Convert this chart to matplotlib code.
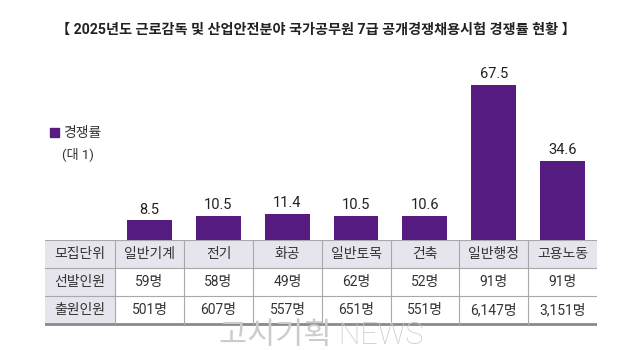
import matplotlib
matplotlib.use('Agg')
import matplotlib.pyplot as plt
from matplotlib.patches import Rectangle

plt.rcParams['font.family'] = ['Roboto', 'Noto Sans CJK KR', 'DejaVu Sans']

# ─────────────────────────────────────────────
# Data
# ─────────────────────────────────────────────
TITLE = '【 2025년도 근로감독 및 산업안전분야 국가공무원 7급 공개경쟁채용시험 경쟁률 현황 】'
units = ['일반기계', '전기', '화공', '일반토목', '건축', '일반행정', '고용노동']
rates = [8.5, 10.5, 11.4, 10.5, 10.6, 67.5, 34.6]
selected = ['59명', '58명', '49명', '62명', '52명', '91명', '91명']
applicants = ['501명', '607명', '557명', '651명', '551명', '6,147명', '3,151명']
row_heads = ['모집단위', '선발인원', '출원인원']

BAR = '#561c82'
GRAY_BG = '#e6e4ec'
LINE = '#a8a8a8'
TXT = '#333333'

W, H = 625, 351

def box(left, top, right, bottom):
    return [left / W, 1 - bottom / H, (right - left) / W, (bottom - top) / H]

fig = plt.figure(figsize=(W / 100, H / 100), dpi=100)

# ─────────────────────────────────────────────
# Bars
# ─────────────────────────────────────────────
ax = fig.add_axes(box(115, 60, 597, 240))
x = range(len(units))
ax.bar(x, rates, width=0.65, color=BAR)
for i, v in zip(x, rates):
    ax.text(i, v + 1.6, f'{v}', ha='center', va='bottom', fontsize=10.5,
            color='#222222')
ax.set_xlim(-0.5, len(units) - 0.5)
ax.set_ylim(0, 78.4)
ax.axis('off')

# ─────────────────────────────────────────────
# Table
# ─────────────────────────────────────────────
tx = fig.add_axes(box(45, 240, 597, 326))
tx.set_xlim(45, 597)
tx.set_ylim(326, 240)
tx.axis('off')

col_edges = [45, 115, 184, 253, 322, 391, 459, 528, 597]
row_edges = [240, 268, 296, 324]

# header row and first column background
tx.add_patch(Rectangle((45, 240), 552, 28, color=GRAY_BG, lw=0))
tx.add_patch(Rectangle((45, 268), 70, 56, color=GRAY_BG, lw=0))

for y in row_edges[:-1]:
    tx.plot([45, 597], [y, y], color=LINE, lw=0.8)
tx.plot([45, 597], [324, 324], color='#8a8a8a', lw=2)
for xe in col_edges[1:-1]:
    tx.plot([xe, xe], [240, 324], color=LINE, lw=0.8)

rows = [units, selected, applicants]
for r, (head, vals) in enumerate(zip(row_heads, rows)):
    yc = (row_edges[r] + row_edges[r + 1]) / 2
    tx.text((col_edges[0] + col_edges[1]) / 2, yc, head, ha='center', va='center',
            fontsize=10, color=TXT)
    for c, v in enumerate(vals):
        xc = (col_edges[c + 1] + col_edges[c + 2]) / 2
        tx.text(xc, yc, v, ha='center', va='center', fontsize=10, color=TXT)

# ─────────────────────────────────────────────
# Title, legend, watermark
# ─────────────────────────────────────────────
fig.text(316 / W, 1 - 30 / H, TITLE, ha='center', va='center', fontsize=10.2,
         fontweight='bold', color='#222222')

fig.patches.append(Rectangle((50 / W, 1 - 137 / H), 9 / W, 9 / H, color=BAR,
                             transform=fig.transFigure, figure=fig))
fig.text(63 / W, 1 - 133 / H, '경쟁률', ha='left', va='center', fontsize=10,
         color=TXT)
fig.text(62 / W, 1 - 154 / H, '(대 1)', ha='left', va='center', fontsize=9.5,
         color=TXT)

fig.text(321 / W, 1 - 335 / H, '고시기획 NEWS', ha='center', va='center',
         fontsize=22, color='#cccccc', fontweight='light')

fig.savefig('out.png', dpi=100)
